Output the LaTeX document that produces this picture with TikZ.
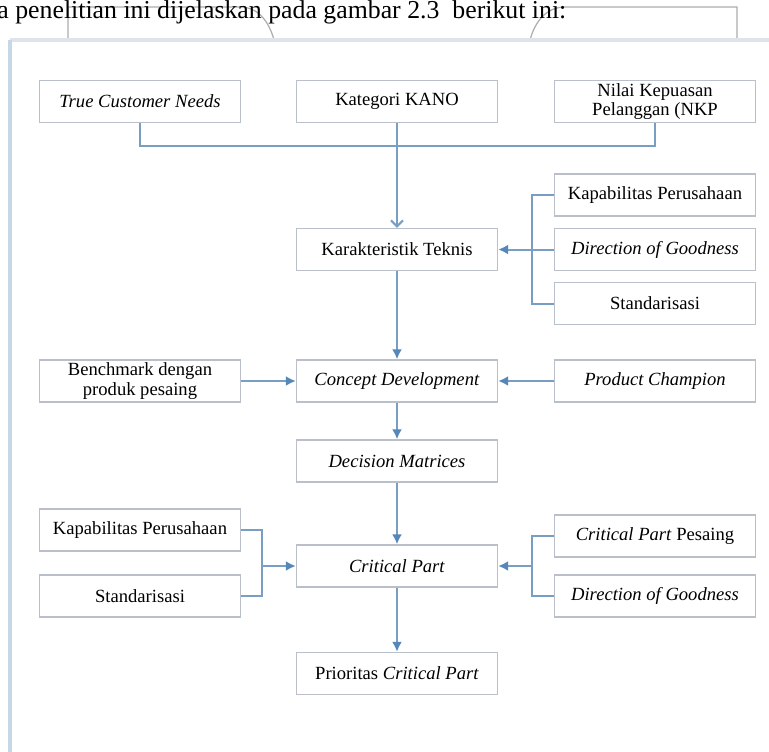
\documentclass[tikz,border=0pt]{standalone}
\usepackage{fontspec}
\setmainfont{Liberation Serif}
\usetikzlibrary{arrows.meta}

\definecolor{boxline}{RGB}{185,192,202}
\definecolor{linkblue}{RGB}{120,158,196}
\definecolor{tipblue}{RGB}{85,135,185}
\definecolor{framegray}{RGB}{222,228,234}
\definecolor{frameblue}{RGB}{198,215,230}

\begin{document}
\begin{tikzpicture}[
            x=0.5pt, y=-0.5pt,
            FlowBox/.style={draw=boxline, line width=0.7pt, fill=white, minimum width=100.5pt, minimum height=21pt, inner sep=0.5pt, align=center, font=\fontsize{9.3}{9.8}\selectfont},
            Link/.style={draw=linkblue, line width=1pt},
            LinkArrow/.style={Link, -{Latex[length=5pt,width=5pt,color=tipblue]}},
            OpenArrow/.style={Link, -{Straight Barb[length=3pt,width=6pt]}},
            PageEdge/.style={draw=gray!65, line width=0.6pt},
            ]
            \useasboundingbox (0,0) rectangle (769,751);

            % page behind the figure
            \draw[PageEdge] (68,40) -- (68,7) -- (240,7) to[out=0,in=105] (274,40);
            \draw[PageEdge] (530,40) to[out=75,in=180] (565,7) -- (737,7) -- (737,40);
            \node[anchor=base west, inner sep=0pt, font=\fontsize{12.9}{14}\selectfont] (caption) at (-3,18) {a penelitian ini dijelaskan pada gambar 2.3~ berikut ini:};

            \fill[white] (10,40) rectangle (780,760);
            \draw[framegray, line width=2pt] (780,40) -- (10,40);
            \draw[frameblue, line width=2pt] (10,40) -- (10,760);

            \node[FlowBox] (tcn) at (140,101.5) {\textit{True Customer Needs}};
            \node[FlowBox] (kano) at (397,101.5) {Kategori KANO};
            \node[FlowBox] (nkp) at (655,101.5) {Nilai Kepuasan\\Pelanggan (NKP};

            \node[FlowBox] (kap1) at (655,195) {Kapabilitas Perusahaan};
            \node[FlowBox] (kt) at (397,249.5) {Karakteristik Teknis};
            \node[FlowBox] (dog1) at (655,249.5) {\textit{Direction of Goodness}};
            \node[FlowBox] (std1) at (655,303.5) {Standarisasi};

            \node[FlowBox] (bm) at (140,381) {Benchmark dengan\\produk pesaing};
            \node[FlowBox] (cd) at (397,381) {\textit{Concept Development}};
            \node[FlowBox] (pc) at (655,381) {\textit{Product Champion}};
            \node[FlowBox] (dm) at (397,461) {\textit{Decision Matrices}};

            \node[FlowBox] (kap2) at (140,530) {Kapabilitas Perusahaan};
            \node[FlowBox] (std2) at (140,596) {Standarisasi};
            \node[FlowBox] (cp) at (397,566) {\textit{Critical Part}};
            \node[FlowBox] (cpp) at (655,536) {\textit{Critical Part} Pesaing};
            \node[FlowBox] (dog2) at (655,596) {\textit{Direction of Goodness}};
            \node[FlowBox] (pcp) at (397,673.5) {Prioritas \textit{Critical Part}};

            \coordinate (hub) at (397,146);
            \coordinate (b1) at (532,249.5);
            \coordinate (b2) at (262,566);
            \coordinate (b3) at (532,566);

            \draw[Link] (tcn.south) |- (hub) -| (nkp.south);
            \draw[OpenArrow] (kano.south) -- (kt.north);

            \draw[Link] (kap1.west) -| (b1) |- (std1.west);
            \draw[Link] (dog1.west) -- (b1);
            \draw[LinkArrow] (b1) -- (kt.east);

            \draw[LinkArrow] (kt.south) -- (cd.north);
            \draw[LinkArrow] (bm.east) -- (cd.west);
            \draw[LinkArrow] (pc.west) -- (cd.east);
            \draw[LinkArrow] (cd.south) -- (dm.north);
            \draw[LinkArrow] (dm.south) -- (cp.north);

            \draw[Link] (kap2.east) -| (b2) |- (std2.east);
            \draw[LinkArrow] (b2) -- (cp.west);
            \draw[Link] (cpp.west) -| (b3) |- (dog2.west);
            \draw[LinkArrow] (b3) -- (cp.east);

            \draw[LinkArrow] (cp.south) -- (pcp.north);
        \end{tikzpicture}
\end{document}
